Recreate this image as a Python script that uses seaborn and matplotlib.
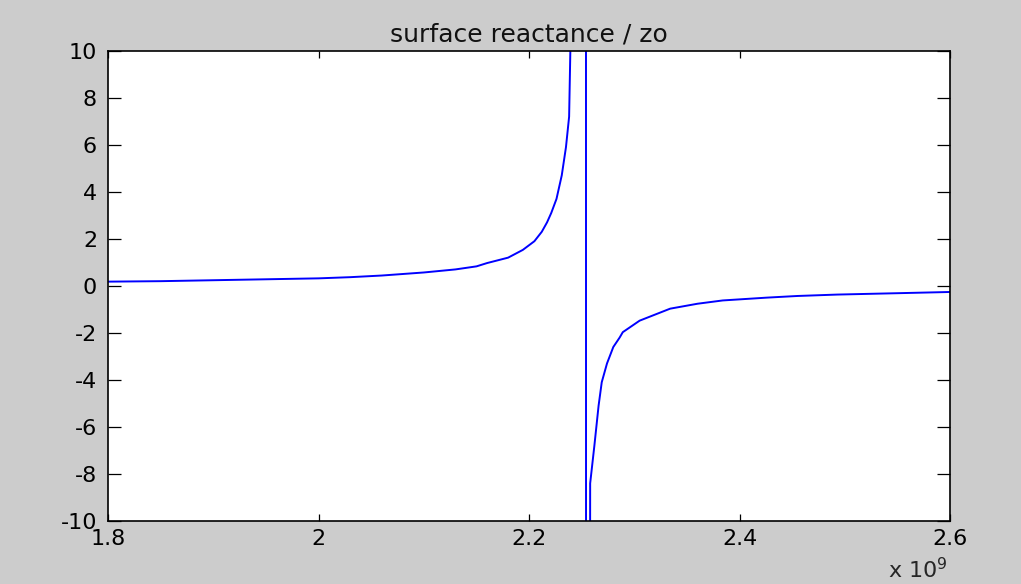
import pandas as pd
import seaborn as sns
import matplotlib.pyplot as plt
from matplotlib.ticker import FuncFormatter

# Frequency (GHz) and normalised surface reactance
freq_ghz = [1.80, 1.85, 1.90, 1.95, 2.00, 2.03, 2.06, 2.10, 2.13, 2.15,
            2.16, 2.18, 2.194, 2.205, 2.212, 2.217, 2.221, 2.226, 2.231,
            2.235, 2.238, 2.240, 2.2538,
            2.2543, 2.258, 2.262, 2.266, 2.269, 2.274, 2.280, 2.286, 2.289,
            2.305, 2.334, 2.360, 2.384, 2.426, 2.455, 2.493, 2.552, 2.60]
reactance = [0.18, 0.20, 0.24, 0.28, 0.32, 0.37, 0.44, 0.57, 0.70, 0.83,
             0.97, 1.20, 1.53, 1.90, 2.30, 2.70, 3.10, 3.70, 4.70,
             5.90, 7.20, 12.0, 150.0,
             -150.0, -8.4, -6.8, -5.1, -4.1, -3.3, -2.6, -2.2, -1.97,
             -1.48, -0.97, -0.76, -0.62, -0.50, -0.43, -0.37, -0.31, -0.26]

x_ticks = [1.8e9, 2.0e9, 2.2e9, 2.4e9, 2.6e9]
y_ticks = [-10, -8, -6, -4, -2, 0, 2, 4, 6, 8, 10]

df = pd.DataFrame({"freq": [f * 1e9 for f in freq_ghz], "x": reactance})

sns.set_style("ticks")
plt.rcParams["font.family"] = ["DejaVu Sans"]
plt.rcParams["axes.unicode_minus"] = False

fig = plt.figure(figsize=(10.21, 5.84), dpi=100, facecolor="#cccccc")
ax = fig.add_axes([0.106, 0.108, 0.8245, 0.805])
ax.set_facecolor("white")

sns.lineplot(data=df, x="freq", y="x", ax=ax, color="#0000ff", linewidth=1.4,
             estimator=None, sort=False)

ax.set_xlim(1.8e9, 2.6e9)
ax.set_ylim(-10, 10)
ax.set_xticks(x_ticks)
ax.set_yticks(y_ticks)
ax.xaxis.set_major_formatter(FuncFormatter(lambda v, p: f"{v / 1e9:g}"))
ax.set_xlabel("")
ax.set_ylabel("")

for s in ax.spines.values():
    s.set_visible(True)
    s.set_linewidth(1.2)
    s.set_color("black")

ax.tick_params(axis="both", direction="in", top=True, right=True,
               labelsize=16, colors="black", width=0.9)
ax.tick_params(axis="x", length=5, pad=6)
ax.tick_params(axis="y", length=9.5, pad=8)

ax.set_title("surface reactance / zo", fontsize=18, pad=7, color="#111111")
fig.text(0.928, 0.003, "x 10$^{9}$", fontsize=16, ha="right", va="bottom")

fig.savefig("out.png", dpi=100, facecolor=fig.get_facecolor())
